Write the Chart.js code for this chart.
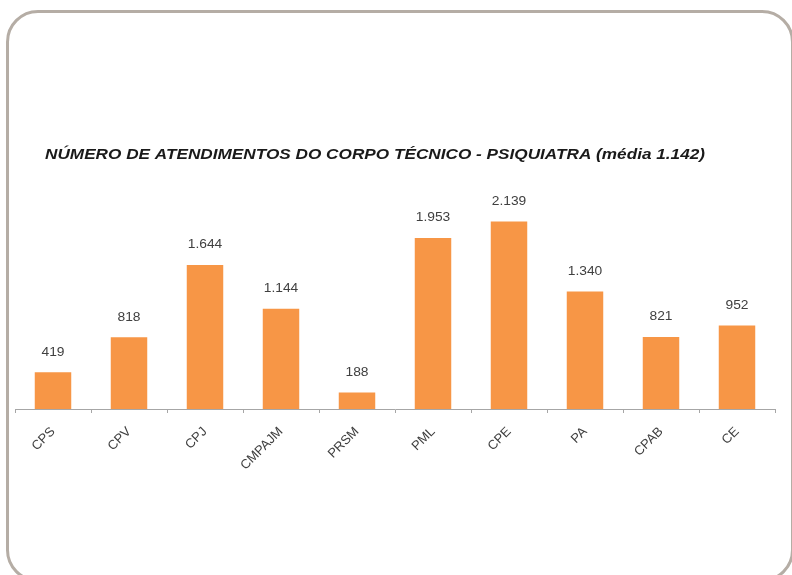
<!DOCTYPE html>
<html>
<head>
<meta charset="utf-8">
<script src="https://cdn.jsdelivr.net/npm/chart.js@4.4.1/dist/chart.umd.min.js"></script>
<style>
  html, body { margin: 0; padding: 0; background: #ffffff; }
  body { width: 792px; height: 575px; position: relative; overflow: hidden; }
  #frame { position: absolute; left: 6px; top: 10px; width: 788px; height: 572px;
           border: 3px solid #b5ada5; border-radius: 32px; box-sizing: border-box; }
  #c { position: absolute; left: 0; top: 0; }
</style>
</head>
<body>
<div id="frame"></div>
<canvas id="c" width="792" height="476"></canvas>
<script>
const chartTitle = "NÚMERO DE ATENDIMENTOS DO CORPO TÉCNICO - PSIQUIATRA (média 1.142)";
const categories = ["CPS", "CPV", "CPJ", "CMPAJM", "PRSM", "PML", "CPE", "PA", "CPAB", "CE"];
const atendimentos = [419, 818, 1644, 1144, 188, 1953, 2139, 1340, 821, 952];

function formatBR(v) {
  return String(v).replace(/\B(?=(\d{3})+(?!\d))/g, ".");
}

const titlePlugin = {
  id: "fixedTitle",
  afterDraw(chart) {
    const ctx = chart.ctx;
    ctx.save();
    ctx.font = 'italic bold 14px "Liberation Sans", Arial, sans-serif';
    ctx.fillStyle = "#1a1a1a";
    ctx.textAlign = "left";
    ctx.textBaseline = "middle";
    const w = ctx.measureText(chartTitle).width;
    const target = 660;
    ctx.translate(45, 155);
    ctx.scale(target / w, 1);
    ctx.fillText(chartTitle, 0, 0);
    ctx.restore();
  }
};

const valueLabels = {
  id: "valueLabels",
  afterDatasetsDraw(chart) {
    const ctx = chart.ctx;
    const meta = chart.getDatasetMeta(0);
    ctx.save();
    ctx.font = '12px "Liberation Sans", Arial, sans-serif';
    ctx.fillStyle = "#404040";
    ctx.textAlign = "center";
    ctx.textBaseline = "middle";
    meta.data.forEach((bar, i) => {
      const txt = formatBR(chart.data.datasets[0].data[i]);
      ctx.save();
      ctx.translate(bar.x, bar.y - 20);
      ctx.scale(1.15, 1);
      ctx.fillText(txt, 0, 0);
      ctx.restore();
    });
    ctx.restore();
  }
};

new Chart(document.getElementById("c"), {
  type: "bar",
  data: {
    labels: categories,
    datasets: [{
      data: atendimentos,
      backgroundColor: "#F79646",
      borderWidth: 0,
      barPercentage: 0.48,
      categoryPercentage: 1.0
    }]
  },
  options: {
    responsive: false,
    animation: false,
    devicePixelRatio: 1,
    layout: { padding: { left: 15, right: 17, top: 190, bottom: 0 } },
    plugins: {
      legend: { display: false },
      title: { display: false },
      tooltip: { enabled: false }
    },
    scales: {
      y: { display: false, min: 0, max: 2500 },
      x: {
        afterFit(scale) { scale.height = 67; },
        border: { display: true, color: "#a6a6a6", width: 1 },
        grid: { display: true, offset: true, drawOnChartArea: false, drawTicks: true, tickLength: 4, color: "#a6a6a6" },
        ticks: {
          autoSkip: false,
          minRotation: 45,
          maxRotation: 45,
          padding: 11,
          color: "#404040",
          font: { family: '"Liberation Sans", Arial, sans-serif', size: 13 }
        }
      }
    }
  },
  plugins: [titlePlugin, valueLabels]
});
</script>
</body>
</html>
